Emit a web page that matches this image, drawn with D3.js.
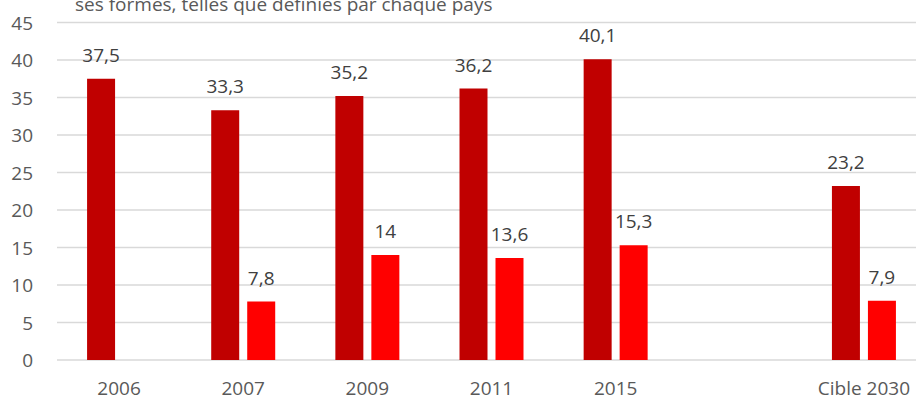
<!DOCTYPE html>
<html>
<head>
<meta charset="utf-8">
<script src="https://cdn.jsdelivr.net/npm/d3@7"></script>
<style>
  html, body { margin: 0; padding: 0; background: #fff; overflow: hidden; }
  svg { display: block; }
  text { font-family: "Open Sans", "Noto Sans", sans-serif; }
</style>
</head>
<body>
<svg id="chart" width="916" height="401"></svg>
<script>
const titleText = "ses formes, telles que définies par chaque pays";
const categories = ["2006", "2007", "2009", "2011", "2015", "", "Cible 2030"];
const seriesNames = ["s1", "s2"];
const series1 = [37.5, 33.3, 35.2, 36.2, 40.1, null, 23.2];
const series2 = [null, 7.8, 14, 13.6, 15.3, null, 7.9];
const yTicks = [0, 5, 10, 15, 20, 25, 30, 35, 40, 45];
const colors = ["#C00000", "#FF0000"];

const W = 916, H = 401;
const svg = d3.select("#chart");

const plotLeft = 57, plotRight = 926, plotTop = 22.5, plotBottom = 360;

const y = d3.scaleLinear().domain([0, 45]).range([plotBottom, plotTop]);
const x0 = d3.scaleBand().domain(categories).range([plotLeft, plotRight])
  .paddingInner(0.4845).paddingOuter(0.4845 / 2);
const x1 = d3.scaleBand().domain(seriesNames).range([0, x0.bandwidth()])
  .paddingInner(8 / 36).paddingOuter(0);

// title (cropped at the top, as in the source)
svg.append("text")
  .attr("x", 75).attr("y", 11)
  .attr("font-size", 19)
  .attr("fill", "#595959")
  .text(titleText);

// gridlines
svg.append("g").selectAll("line").data(yTicks).join("line")
  .attr("x1", plotLeft).attr("x2", W)
  .attr("y1", d => y(d)).attr("y2", d => y(d))
  .attr("stroke", "#D9D9D9").attr("stroke-width", 1.5);

// y axis labels
const yAxis = d3.axisLeft(y).tickValues(yTicks).tickSize(0).tickPadding(0);
const gy = svg.append("g").attr("transform", "translate(33,0)").call(yAxis);
gy.select(".domain").remove();
gy.selectAll("text")
  .attr("font-size", 19).attr("fill", "#595959")
  .attr("font-family", "Open Sans")
  .attr("dy", "0.35em");

// x axis labels
const xAxis = d3.axisBottom(x0).tickSize(0).tickPadding(0);
const gx = svg.append("g").attr("transform", `translate(0,${plotBottom})`).call(xAxis);
gx.select(".domain").remove();
gx.selectAll("text")
  .attr("font-size", 19).attr("fill", "#595959")
  .attr("font-family", "Open Sans")
  .attr("dy", null).attr("y", 35);

const data = categories.map((c, i) => ({
  cat: c,
  vals: [{ key: "s1", v: series1[i], ci: 0 }, { key: "s2", v: series2[i], ci: 1 }]
}));

const groups = svg.append("g").selectAll("g").data(data).join("g")
  .attr("transform", d => `translate(${x0(d.cat)},0)`);

groups.selectAll("rect").data(d => d.vals.filter(v => v.v != null)).join("rect")
  .attr("x", d => x1(d.key))
  .attr("width", x1.bandwidth())
  .attr("y", d => y(d.v))
  .attr("height", d => y(0) - y(d.v))
  .attr("fill", d => colors[d.ci]);

groups.selectAll("text.lbl").data(d => d.vals.filter(v => v.v != null)).join("text")
  .attr("class", "lbl")
  .attr("x", d => x1(d.key) + x1.bandwidth() / 2)
  .attr("y", d => y(d.v) - 17)
  .attr("text-anchor", "middle")
  .attr("font-size", 19)
  .attr("fill", "#404040")
  .text(d => String(d.v).replace(".", ","));
</script>
</body>
</html>
